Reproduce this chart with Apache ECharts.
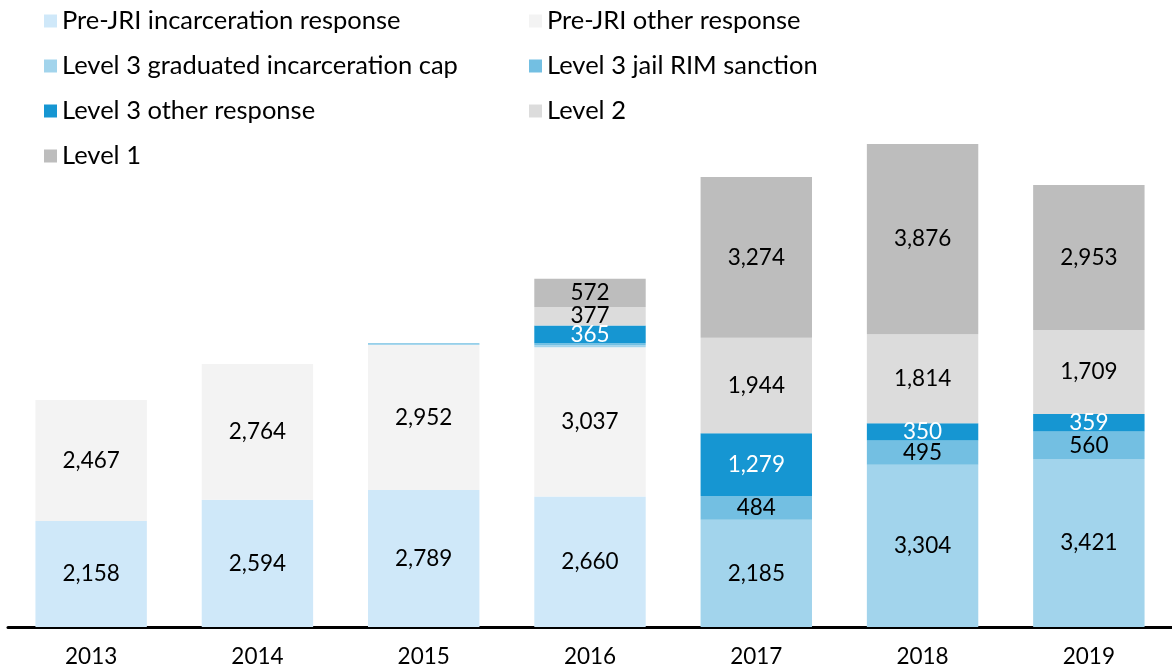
<!DOCTYPE html>
<html>
<head>
<meta charset="utf-8">
<script src="https://cdn.jsdelivr.net/npm/echarts@6/dist/echarts.min.js"></script>
<style>
  html, body { margin: 0; padding: 0; background: #fff; }
  #chart { width: 1172px; height: 671px; }
</style>
</head>
<body>
<div id="chart"></div>
<script>
var years = ['2013', '2014', '2015', '2016', '2017', '2018', '2019'];

var preJriIncarceration = [2158, 2594, 2789, 2660, 0, 0, 0];
var preJriOther = [2467, 2764, 2952, 3037, 0, 0, 0];
var level3GradCap = [0, 0, 20, 40, 2185, 3304, 3421];
var level3JailRim = [0, 0, 20, 40, 484, 495, 560];
var level3Other = [0, 0, 0, 365, 1279, 350, 359];
var level2 = [0, 0, 0, 377, 1944, 1814, 1709];
var level1 = [0, 0, 0, 572, 3274, 3876, 2953];

var font = 'Lato, "Open Sans", sans-serif';

function makeSeries(name, data, color, labelColor) {
  return {
    name: name,
    type: 'bar',
    stack: 'total',
    data: data,
    barWidth: '67%',
    itemStyle: { color: color },
    label: {
      show: true,
      color: labelColor,
      fontFamily: font,
      fontSize: 22.5,
      formatter: function (p) {
        if (p.value < 100) return '';
        return p.value.toLocaleString('en-US');
      }
    }
  };
}

var chart = echarts.init(document.getElementById('chart'));

var legendText = { fontFamily: font, fontSize: 25.5, color: '#000', lineHeight: 26 };

var option = {
  animation: false,
  grid: { left: 8, right: 0, top: 136, bottom: 44, containLabel: false },
  legend: [{
    orient: 'vertical',
    left: 39,
    top: 3,
    itemWidth: 13,
    itemHeight: 13,
    itemGap: 19,
    icon: 'rect',
    textStyle: legendText,
    data: ['Pre-JRI incarceration response', 'Level 3 graduated incarceration cap', 'Level 3 other response', 'Level 1']
  }, {
    orient: 'vertical',
    left: 524,
    top: 3,
    itemWidth: 13,
    itemHeight: 13,
    itemGap: 19,
    icon: 'rect',
    textStyle: legendText,
    data: ['Pre-JRI other response', 'Level 3 jail RIM sanction', 'Level 2']
  }],
  xAxis: {
    type: 'category',
    data: years,
    axisLine: { lineStyle: { color: '#000', width: 3 } },
    axisTick: { show: false },
    axisLabel: { fontFamily: font, fontSize: 22.5, color: '#000', margin: 18 }
  },
  yAxis: {
    type: 'value',
    min: 0,
    max: 10000,
    show: false,
    splitLine: { show: false }
  },
  series: [
    makeSeries('Pre-JRI incarceration response', preJriIncarceration, '#cfe8f9', '#000'),
    makeSeries('Pre-JRI other response', preJriOther, '#f3f3f3', '#000'),
    makeSeries('Level 3 graduated incarceration cap', level3GradCap, '#a2d4ec', '#000'),
    makeSeries('Level 3 jail RIM sanction', level3JailRim, '#73bfe2', '#000'),
    makeSeries('Level 3 other response', level3Other, '#1696d2', '#fff'),
    makeSeries('Level 2', level2, '#dcdcdc', '#000'),
    makeSeries('Level 1', level1, '#bdbdbd', '#000')
  ]
};

chart.setOption(option);
</script>
</body>
</html>
